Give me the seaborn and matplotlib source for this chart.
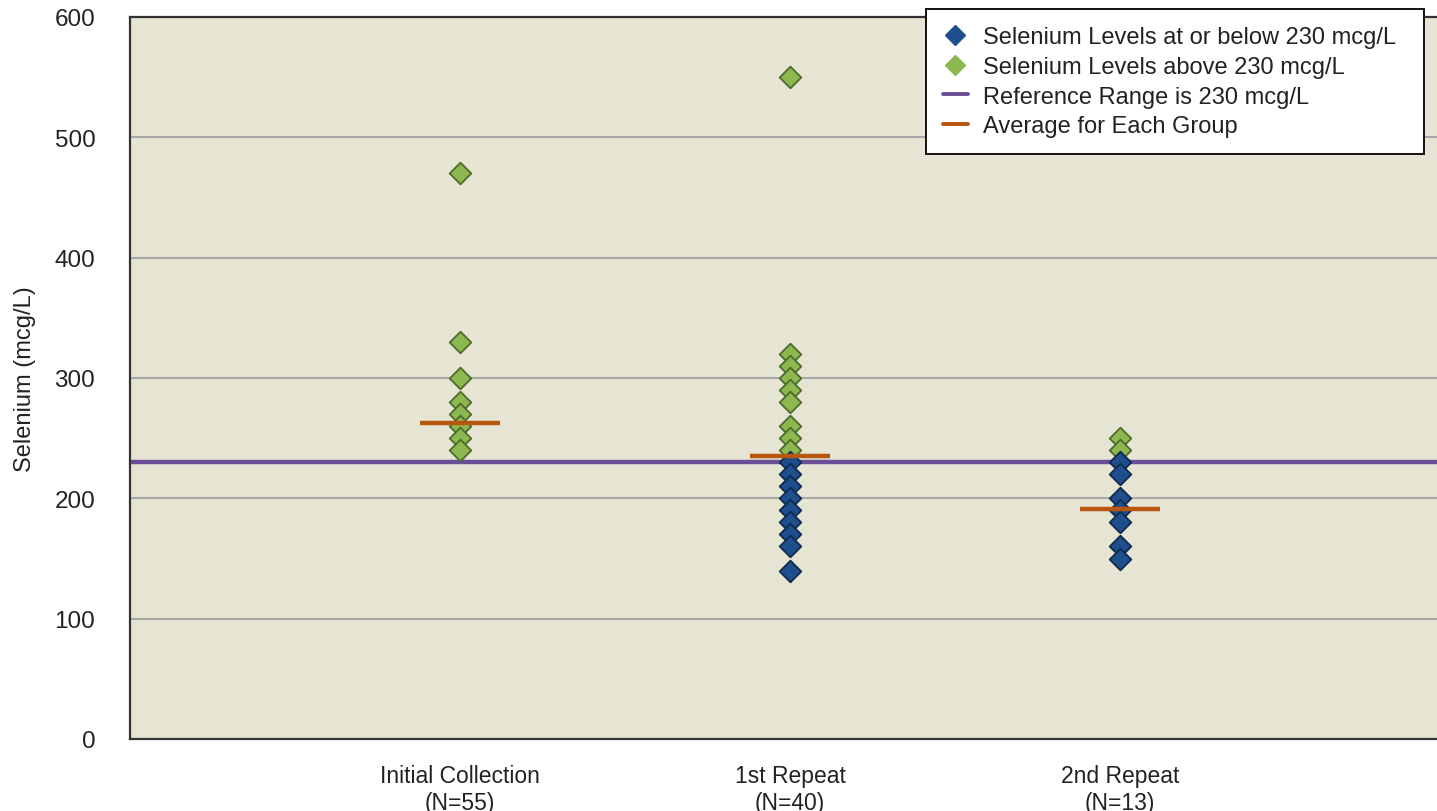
import matplotlib
matplotlib.use("Agg")
import matplotlib.pyplot as plt
import seaborn as sns
import pandas as pd
from matplotlib.lines import Line2D

# ---- data ----
groups = ["Initial Collection\n(N=55)", "1st Repeat\n(N=40)", "2nd Repeat\n(N=13)"]
initial_vals = [470, 330, 300, 280, 270, 260, 250, 240]
repeat1_vals = [550, 320, 310, 300, 290, 280, 260, 250, 240,
                230, 220, 210, 200, 190, 180, 170, 160, 140]
repeat2_vals = [250, 240, 230, 220, 200, 190, 180, 160, 150]
group_means = [263, 235, 191]
reference_level = 230
y_ticks = [0, 100, 200, 300, 400, 500, 600]

label_low = "Selenium Levels at or below 230 mcg/L"
label_high = "Selenium Levels above 230 mcg/L"
label_ref = "Reference Range is 230 mcg/L"
label_avg = "Average for Each Group"

rows = []
for g, vals in zip(groups, [initial_vals, repeat1_vals, repeat2_vals]):
    for v in vals:
        rows.append({"Group": g, "Selenium": v,
                     "Level": label_low if v <= reference_level else label_high})
df = pd.DataFrame(rows)

# ---- style ----
sns.set_theme(style="white")
plt.rcParams["font.family"] = ["Liberation Sans", "DejaVu Sans"]

blue = "#1F4E8C"
blue_edge = "#102A4C"
green = "#8DB84F"
green_edge = "#4E6B2B"
purple = "#6B4E98"
orange = "#B8560F"
bg = "#E6E4D2"
text_col = "#222222"

fig = plt.figure(figsize=(14.37, 8.12), dpi=100)
ax = fig.add_axes([130 / 1437, 1 - 740 / 812, 1320 / 1437, 722 / 812])
ax.set_facecolor(bg)

# gridlines
ax.set_yticks(y_ticks)
ax.yaxis.grid(True, color="#A8A8A8", linewidth=1.5)
ax.set_axisbelow(True)

# reference line
ax.axhline(reference_level, color=purple, linewidth=3.2, zorder=2)

palette = {label_low: blue, label_high: green}
for lvl, edge in [(label_high, green_edge), (label_low, blue_edge)]:
    sub = df[df["Level"] == lvl]
    sns.stripplot(data=sub, x="Group", y="Selenium", order=groups,
                  color=palette[lvl], jitter=False, marker="D", size=11,
                  linewidth=1.3, edgecolor=edge, ax=ax, zorder=3, legend=False)

# group averages
for i, m in enumerate(group_means):
    ax.hlines(m, i - 0.121, i + 0.121, color=orange, linewidth=3.2, zorder=4)

ax.set_xlim(-1, 3)
ax.set_ylim(0, 600)

ax.set_xlabel("")
ax.set_ylabel("Selenium (mcg/L)", fontsize=17, color=text_col)
ax.yaxis.set_label_coords(-0.071, 0.5)
ax.set_xticks(range(len(groups)))
ax.set_xticklabels(groups, fontsize=16.5, color=text_col)
ax.tick_params(axis="x", length=6, width=1.5, color="#333333", direction="out", pad=12)
ax.tick_params(axis="y", length=0, labelsize=17.5, labelcolor=text_col, pad=25)

for s in ["left", "bottom", "top"]:
    ax.spines[s].set_color("#333333")
    ax.spines[s].set_linewidth(1.6)
ax.spines["right"].set_visible(False)

handles = [
    Line2D([], [], marker="D", linestyle="none", color=blue, markersize=10),
    Line2D([], [], marker="D", linestyle="none", color=green, markersize=10),
    Line2D([], [], color=purple, linewidth=2.8),
    Line2D([], [], color=orange, linewidth=2.8),
]
labels = [label_low, label_high, label_ref, label_avg]
leg = ax.legend(handles, labels, loc="upper left", mode="expand",
                bbox_to_anchor=(926 / 1437, 1 - 152 / 812, 498 / 1437, 142 / 812),
                bbox_transform=fig.transFigure, borderaxespad=0,
                fontsize=17, frameon=True, fancybox=False,
                handlelength=1.05, handletextpad=0.65, labelspacing=0.33,
                borderpad=0.72)
leg.get_frame().set_edgecolor("#111111")
leg.get_frame().set_linewidth(1.4)
leg.get_frame().set_facecolor("white")
leg.get_frame().set_alpha(1)
leg.set_zorder(10)
for t in leg.get_texts():
    t.set_color(text_col)

fig.savefig("out.png", dpi=100)
